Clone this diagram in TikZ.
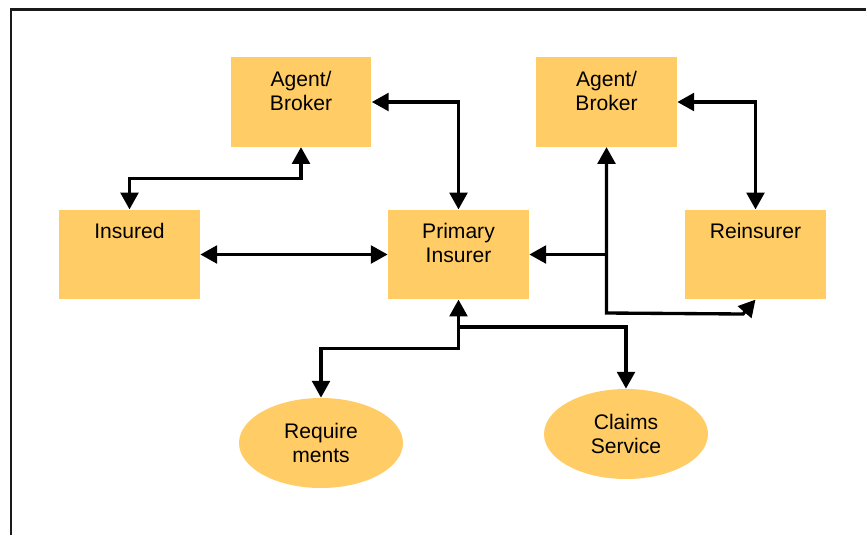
\documentclass[tikz,border=0pt]{standalone}
\usepackage{fontspec}
\setmainfont{Liberation Sans}
\usepackage{tikz}
\usetikzlibrary{shapes.geometric, arrows.meta, positioning, calc}
\definecolor{boxGold}{HTML}{FFCC66}
\definecolor{frameGray}{HTML}{1A1A1A}

\begin{document}
\begin{tikzpicture}[
  x=0.02cm, y=-0.02cm,
  party/.style={fill=boxGold, draw=none, minimum width=2.82cm, minimum height=1.79cm, inner sep=0pt},
  duty/.style={ellipse, fill=boxGold, draw=none, minimum width=3.28cm, minimum height=1.8cm, inner sep=0pt, align=center, font=\fontsize{12}{13.6}\selectfont},
  boxtext/.style={anchor=north, inner sep=0pt, yshift=-7.8pt, align=center, font=\fontsize{12}{13.6}\selectfont},
  link/.style={line width=1.9pt, draw=black, {Triangle[length=9.5pt, width=10pt]}-{Triangle[length=9.5pt, width=10pt]}},
  feed/.style={line width=1.9pt, draw=black, -{Triangle[length=9.5pt, width=10pt]}},
]
  \useasboundingbox (0,0) rectangle (866,535);
  % frame
  \draw[frameGray, line width=1.4pt] (11,535) -- (11,9.5) -- (866,9.5);

  % Top row
  \node[party, label={[boxtext]north:{Agent/\\Broker}}] (agentL) at (301, 102) {};
  \node[party, label={[boxtext]north:{Agent/\\Broker}}] (agentR) at (606.5, 102) {};

  % Middle row
  \node[party, label={[boxtext]north:{Insured}}] (insured) at (129.5, 254.5) {};
  \node[party, label={[boxtext]north:{Primary\\Insurer}}] (primary) at (458.5, 254.5) {};
  \node[party, label={[boxtext]north:{Reinsurer}}] (reins) at (755.5, 254.5) {};

  % Bottom row
  \node[duty] (req) at (321, 443) {Require\\ments};
  \node[duty] (claims) at (626, 434) {Claims\\Service};

  % Connectors
  \draw[link] (insured.north) -- (insured.north |- 0,178.5) -| (agentL.south);
  \draw[link] (insured.east) -- (primary.west);
  \draw[link] (agentL.east) -| (primary.north);
  \draw[link] (agentR.east) -| (reins.north);
  \coordinate (kink) at (743, 314);
  \draw[link] (agentR.south) -- (agentR.south |- 0,313) -- (kink) -- (reins.south);
  \draw[feed] (agentR.south |- primary.east) -- (primary.east);
  \draw[link] (primary.south) -- (primary.south |- 0,348.5) -| (req.north);
  \draw[feed] (primary.south |- 0,327) -| (claims.north);
\end{tikzpicture}
\end{document}
